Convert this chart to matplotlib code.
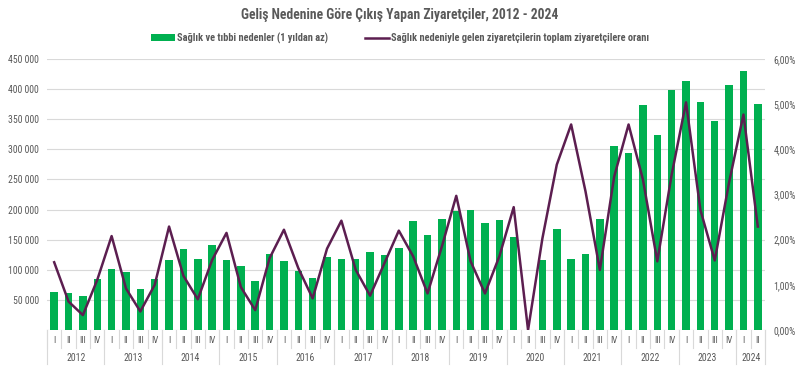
import matplotlib
matplotlib.use("Agg")
import matplotlib.pyplot as plt
from matplotlib.lines import Line2D
from matplotlib.patches import Patch
import matplotlib.transforms as mtransforms
import numpy as np

plt.rcParams['font.family'] = ['Roboto Condensed', 'DejaVu Sans']

years = ["2012", "2013", "2014", "2015", "2016", "2017", "2018", "2019",
         "2020", "2021", "2022", "2023", "2024"]
quarters = ["I", "II", "III", "IV"]

visitors = [63000, 62000, 57000, 85000,
            101000, 97000, 68000, 84000,
            117000, 135000, 118000, 141000,
            116000, 107000, 81000, 126000,
            115000, 98000, 87000, 121000,
            118000, 118000, 130000, 125000,
            136000, 181000, 157000, 185000,
            198000, 200000, 178000, 183000,
            154000, 0, 116000, 167000,
            118000, 126000, 184000, 305000,
            294000, 373000, 323000, 399000,
            414000, 378000, 347000, 407000,
            430000, 376000]

ratio = [1.50, 0.63, 0.33, 1.11,
         2.08, 0.92, 0.41, 1.00,
         2.29, 1.20, 0.68, 1.55,
         2.15, 0.95, 0.44, 1.59,
         2.22, 1.37, 0.70, 1.80,
         2.42, 1.33, 0.76, 1.48,
         2.20, 1.63, 0.81, 1.85,
         2.97, 1.52, 0.81, 1.63,
         2.72, 0.00, 2.03, 3.66,
         4.55, 3.07, 1.33, 3.40,
         4.55, 3.33, 1.52, 3.44,
         5.04, 2.66, 1.54, 3.27,
         4.77, 2.29]

labels_q = [q for y in years for q in quarters][:len(visitors)]
year_counts = [4] * 12 + [2]

bar_color = "#00B050"
line_color = "#5C1E50"
grid_color = "#D9D9D9"
text_color = "#595959"

fig = plt.figure(figsize=(8, 3.69), dpi=100)
ax = fig.add_axes([47/800, 39/369, 718/800, 271/369])
ax2 = ax.twinx()

x = np.arange(len(visitors))
ax.bar(x, visitors, width=0.52, color=bar_color, zorder=2)
ax2.plot(x, ratio, color=line_color, lw=1.8, zorder=3)

ax.set_xlim(-0.5, len(visitors) - 0.5)
ax.set_ylim(0, 450000)
ax2.set_ylim(0, 6)
ax.set_yticks(np.arange(50000, 450001, 50000))
ax.set_yticklabels([f"{v:,}".replace(",", " ") for v in range(50000, 450001, 50000)])
ax2.set_yticks(np.arange(0, 7, 1))
ax2.set_yticklabels([f"{v:.2f}%".replace(".", ",") for v in range(0, 7)])

for a in (ax, ax2):
    for s in a.spines.values():
        s.set_visible(False)
    a.tick_params(axis='y', length=0, labelsize=7, labelcolor=text_color, pad=6)
ax.set_axisbelow(True)
ax.grid(axis='y', color=grid_color, lw=0.8)
ax.axhline(0, color=grid_color, lw=0.8, zorder=1)
ax.set_xticks([])

trans = mtransforms.blended_transform_factory(ax.transData, ax.transAxes)
for i, q in enumerate(labels_q):
    ax.text(i, -0.04, q, transform=trans, ha='center', va='center',
            fontsize=6.5, color=text_color, clip_on=False)
for i in range(len(visitors) + 1):
    ax.add_line(Line2D([i - 0.5, i - 0.5], [0, -0.068], transform=trans,
                       color=grid_color, lw=0.8, clip_on=False))
start = 0
for yr, n in zip(years, year_counts):
    ax.text(start + (n - 1) / 2, -0.105, yr, transform=trans, ha='center', va='center',
            fontsize=7, color=text_color, clip_on=False)
    ax.add_line(Line2D([start - 0.5, start - 0.5], [0, -0.125], transform=trans,
                       color=grid_color, lw=0.8, clip_on=False))
    start += n
ax.add_line(Line2D([start - 0.5, start - 0.5], [0, -0.125], transform=trans,
                   color=grid_color, lw=0.8, clip_on=False))

fig.suptitle("Geliş Nedenine Göre Çıkış Yapan Ziyaretçiler, 2012 - 2024",
             x=0.5, y=1 - 15/369, va='center', fontsize=9.8, fontweight='bold',
             color=text_color)

handles = [Patch(facecolor=bar_color, edgecolor='none'),
           Line2D([0], [0], color=line_color, lw=1.8)]
fig.legend(handles, ["Sağlık ve tıbbi nedenler (1 yıldan az)",
                     "Sağlık nedeniyle gelen ziyaretçilerin toplam ziyaretçilere oranı"],
           loc='center', bbox_to_anchor=(0.5, 1 - 38/369), ncol=2, frameon=False,
           prop={'size': 7.5, 'weight': 'bold'}, labelcolor=text_color,
           handlelength=2.3, handletextpad=0.2, columnspacing=3.5)

fig.savefig("out.png", dpi=100)
